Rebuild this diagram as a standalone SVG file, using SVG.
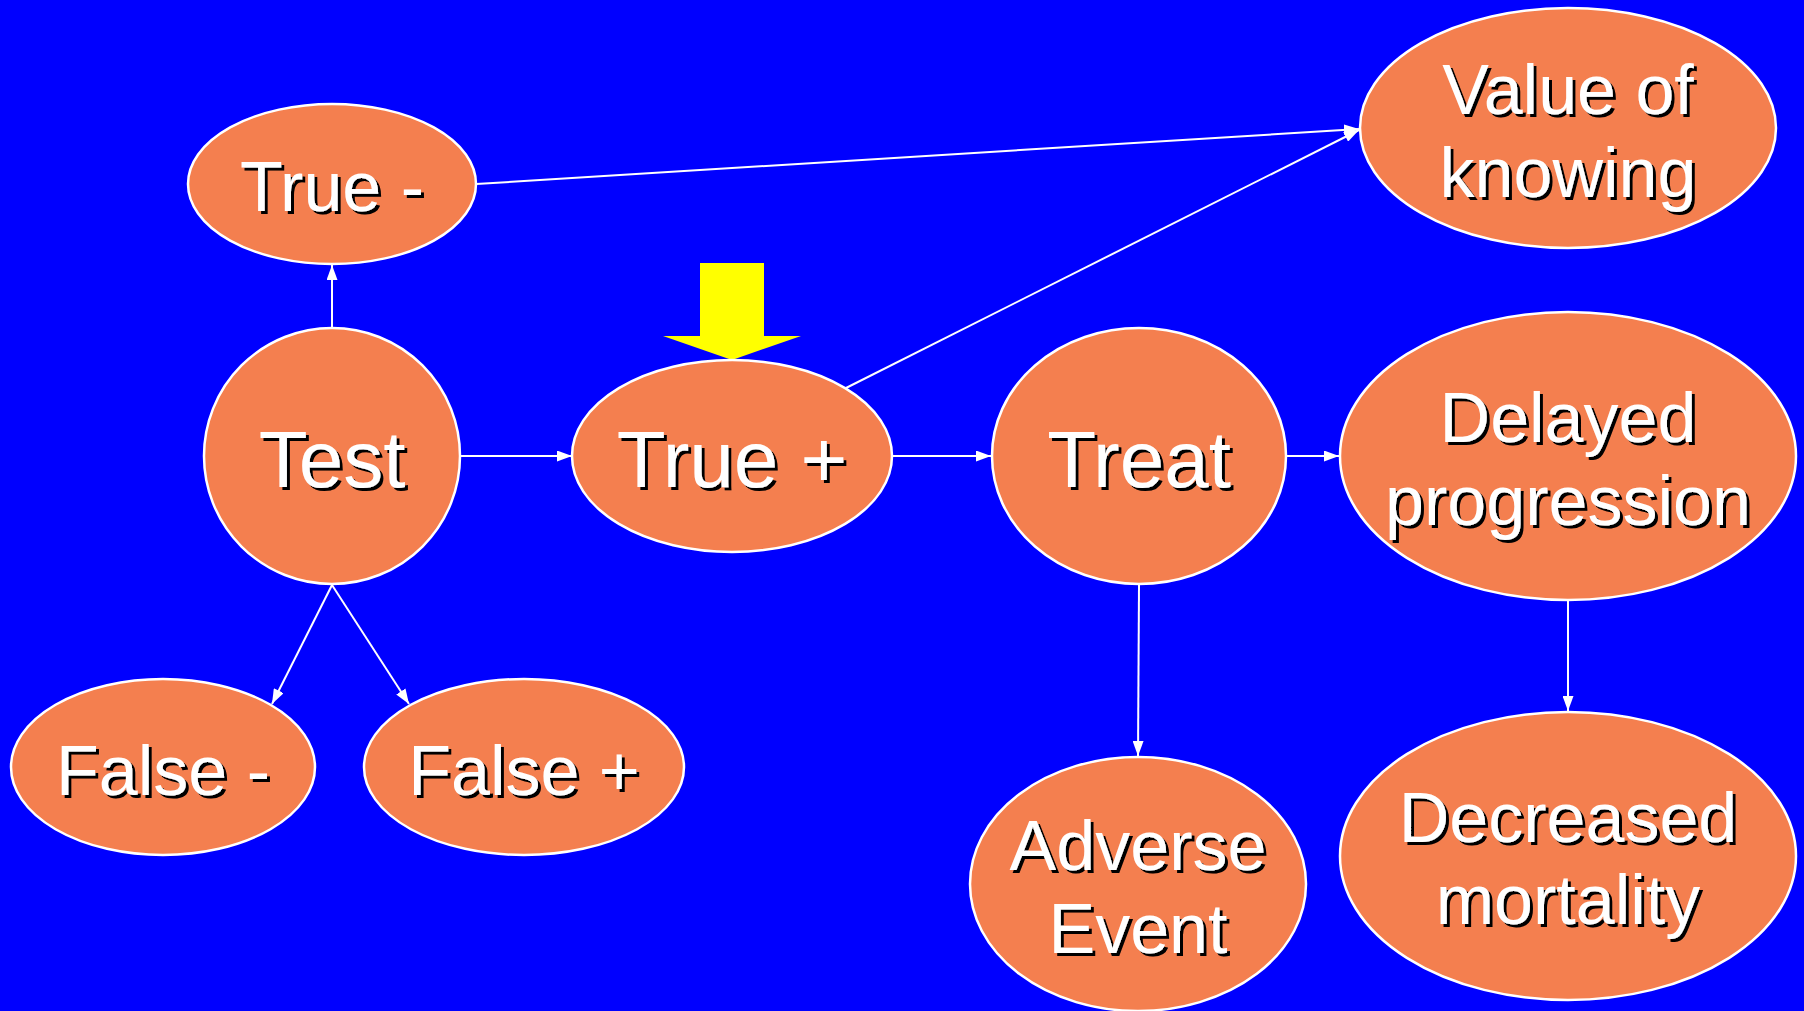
<svg xmlns="http://www.w3.org/2000/svg" width="1804" height="1011" viewBox="0 0 1804 1011">
<style>
.node{fill:#F47F4F;stroke:#FFFFFF;stroke-width:2.5}
.lbl{font-family:"Liberation Sans",Arial,sans-serif;fill:#FFFFFF;text-anchor:middle;filter:url(#ds)}
.big{font-size:80px}
.med{font-size:70px}
.edge{stroke:#FFFFFF;stroke-width:2;fill:none;marker-end:url(#ah)}
</style>
<defs>
<filter id="ds" x="-10%" y="-10%" width="120%" height="130%">
<feOffset in="SourceAlpha" dx="3" dy="3" result="o"/>
<feMerge><feMergeNode in="o"/><feMergeNode in="SourceGraphic"/></feMerge>
</filter>
<marker id="ah" markerUnits="userSpaceOnUse" markerWidth="15" markerHeight="11" refX="15" refY="5.5" orient="auto">
<path d="M0,0 L15,5.5 L0,11 z" fill="#FFFFFF"/>
</marker>
</defs>
<rect x="0" y="0" width="1804" height="1011" fill="#0000FF"/>
<g id="connectors">
<line class="edge" x1="332" y1="328" x2="332" y2="265"/>
<line class="edge" x1="461" y1="456" x2="572" y2="456"/>
<line class="edge" x1="893" y1="456" x2="991" y2="456"/>
<line class="edge" x1="1287" y1="456" x2="1339" y2="456"/>
<line class="edge" x1="476" y1="184" x2="1359" y2="129"/>
<line class="edge" x1="846" y1="388" x2="1359" y2="130"/>
<line class="edge" x1="332" y1="585" x2="272" y2="704"/>
<line class="edge" x1="332" y1="585" x2="409" y2="704"/>
<line class="edge" x1="1139" y1="585" x2="1138" y2="756"/>
<line class="edge" x1="1568" y1="600" x2="1568" y2="711"/>
</g>
<g id="arrow-highlight">
<polygon points="700,263 764,263 764,336 801,336 732,360 663,336 700,336" fill="#FFFF00"/>
</g>
<g id="true-neg">
<ellipse class="node" cx="332" cy="184" rx="144" ry="80"/>
<text class="lbl med" x="332" y="211">True -</text>
</g>
<g id="value-of-knowing">
<ellipse class="node" cx="1568" cy="128" rx="208" ry="120"/>
<text class="lbl med" x="1568" y="114">Value of</text>
<text class="lbl med" x="1568" y="197">knowing</text>
</g>
<g id="test">
<ellipse class="node" cx="332" cy="456" rx="128" ry="128"/>
<text class="lbl big" x="332" y="487">Test</text>
</g>
<g id="true-pos">
<ellipse class="node" cx="732" cy="456" rx="160" ry="96"/>
<text class="lbl big" x="732" y="487">True +</text>
</g>
<g id="treat">
<ellipse class="node" cx="1139" cy="456" rx="147" ry="128"/>
<text class="lbl big" x="1139" y="487">Treat</text>
</g>
<g id="delayed-progression">
<ellipse class="node" cx="1568" cy="456" rx="228" ry="144"/>
<text class="lbl med" x="1568" y="442">Delayed</text>
<text class="lbl med" x="1568" y="525">progression</text>
</g>
<g id="false-neg">
<ellipse class="node" cx="163" cy="767" rx="152" ry="88"/>
<text class="lbl med" x="163" y="795">False -</text>
</g>
<g id="false-pos">
<ellipse class="node" cx="524" cy="767" rx="160" ry="88"/>
<text class="lbl med" x="524" y="795">False +</text>
</g>
<g id="adverse-event">
<ellipse class="node" cx="1138" cy="884" rx="168" ry="127"/>
<text class="lbl med" x="1138" y="870">Adverse</text>
<text class="lbl med" x="1138" y="953">Event</text>
</g>
<g id="decreased-mortality">
<ellipse class="node" cx="1568" cy="856" rx="228" ry="144"/>
<text class="lbl med" x="1568" y="842">Decreased</text>
<text class="lbl med" x="1568" y="924">mortality</text>
</g>
</svg>
